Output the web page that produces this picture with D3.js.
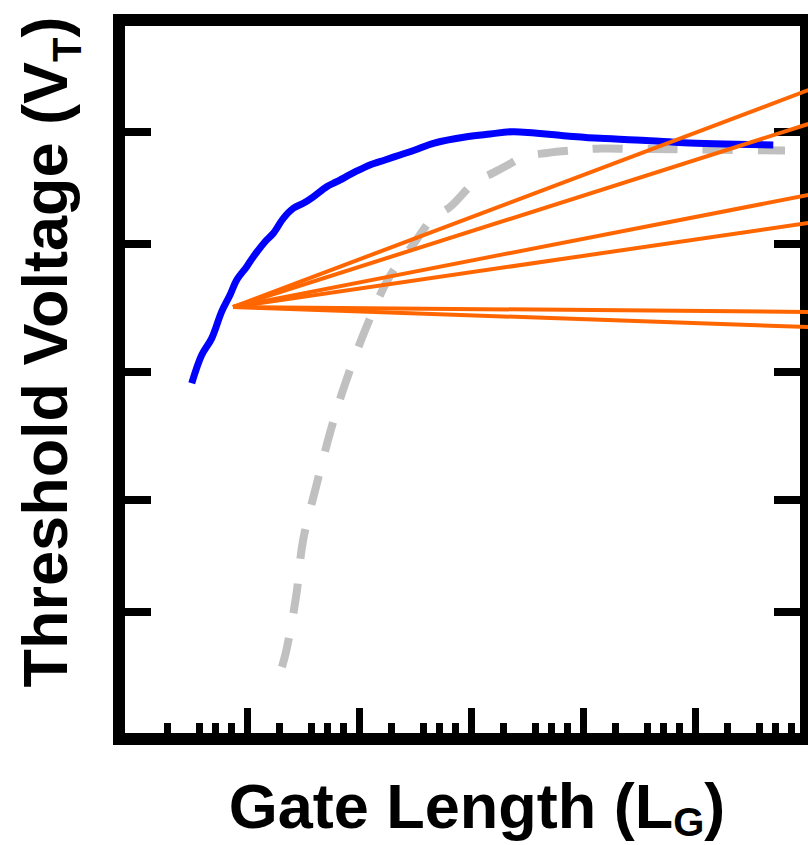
<!DOCTYPE html>
<html>
<head>
<meta charset="utf-8">
<script src="https://cdn.jsdelivr.net/npm/d3@7"></script>
<style>
  html, body { margin: 0; padding: 0; background: #fff; }
  svg { display: block; }
  .axisLabel { font-family: "Liberation Sans", Arial, sans-serif; font-weight: bold; fill: #000; }
</style>
</head>
<body>
<div id="chart"></div>
<script>
'use strict';

// schematic: arbitrary units, log gate length vs threshold voltage
const xMajorTicks = [1e1, 1e2, 1e3, 1e4, 1e5];
const xMinorTicks = [1.93, 3.73, 5.18, 7.2, 19.3, 37.3, 51.8, 72, 193, 373, 518, 720,
    1930, 3730, 5180, 7200, 19300, 37300, 51800, 72000, 193000, 373000, 518000, 720000];
const yTicks = [8, 15, 23, 31, 38];

// blue curve
const blueX = [3.21, 3.94, 4.84, 5.94, 7.05, 8.09, 9.94, 11.4, 14.5, 17.2, 21.1, 25.9, 31.8, 39.1,
    51.5, 63.2, 92.1, 125, 170.7, 232, 316, 461, 916, 1479, 2388, 7150, 14190, 39650, 78700, 500000];
const blueY = [22.23, 24.0, 25.04, 26.71, 27.75, 28.69, 29.52, 30.14, 31.08, 31.61, 32.54, 33.17, 33.48, 33.89,
    34.52, 34.83, 35.44, 35.88, 36.19, 36.5, 36.81, 37.23, 37.64, 37.81, 37.96, 37.69, 37.54, 37.39, 37.27, 37.13];

// gray dashed curve
const grayX = [20.5, 22.3, 27.4, 31.6, 41.3, 55.1, 73.5, 115.5, 189, 303, 458, 649, 1086, 1572, 2140, 2912,
    4770, 8840, 14780, 27950, 110900, 636300];
const grayY = [4.5, 5.44, 8.88, 12.38, 15.75, 19.13, 22.0, 25.69, 28.94, 30.88, 32.56, 33.25, 34.81, 35.38, 35.88, 36.38,
    36.63, 36.81, 36.91, 36.88, 36.84, 36.78];

// orange fan
const fanOrigin = [7.5, 27.0];
const fanEndX = 1.03e6;
const fanEndY = [40.56, 38.44, 34.0, 32.25, 26.69, 25.75];

const W = 808, H = 845;
const frame = { left: 119, top: 20, right: 806, bottom: 739 };

const svg = d3.select("#chart").append("svg")
    .attr("width", W)
    .attr("height", H)
    .attr("viewBox", "0 0 " + W + " " + H);

const x = d3.scaleLog().domain([1, 1e6]).range([135, 807]);
const y = d3.scaleLinear().domain([0, 45]).range([739, 19]);

const line = d3.line()
    .x(function (d) { return x(d[0]); })
    .y(function (d) { return y(d[1]); })
    .curve(d3.curveCatmullRom.alpha(0.5));

// frame
svg.append("rect")
    .attr("x", frame.left)
    .attr("y", frame.top)
    .attr("width", frame.right - frame.left)
    .attr("height", frame.bottom - frame.top)
    .attr("fill", "none")
    .attr("stroke", "#000")
    .attr("stroke-width", 12)
    .attr("shape-rendering", "crispEdges");

// x ticks pointing up from the bottom frame
const xAxisMajor = svg.append("g")
    .attr("transform", "translate(0," + (frame.bottom - 6) + ")")
    .call(d3.axisTop(x).tickValues(xMajorTicks).tickSize(25).tickFormat(""));
const xAxisMinor = svg.append("g")
    .attr("transform", "translate(0," + (frame.bottom - 6) + ")")
    .call(d3.axisTop(x).tickValues(xMinorTicks).tickSize(10).tickFormat(""));

// y ticks on both sides, pointing inward
const yAxisLeft = svg.append("g")
    .attr("transform", "translate(" + (frame.left + 6) + ",0)")
    .call(d3.axisRight(y).tickValues(yTicks).tickSize(26).tickFormat(""));
const yAxisRight = svg.append("g")
    .attr("transform", "translate(" + (frame.right - 6) + ",0)")
    .call(d3.axisLeft(y).tickValues(yTicks).tickSize(26).tickFormat(""));

[xAxisMajor, xAxisMinor].forEach(function (g) {
    g.select(".domain").remove();
    g.selectAll(".tick line").attr("stroke", "#000").attr("stroke-width", 7).attr("shape-rendering", "crispEdges");
});
[yAxisLeft, yAxisRight].forEach(function (g) {
    g.select(".domain").remove();
    g.selectAll(".tick line").attr("stroke", "#000").attr("stroke-width", 8).attr("shape-rendering", "crispEdges");
});

// gray dashed
svg.append("path")
    .datum(d3.zip(grayX, grayY))
    .attr("fill", "none")
    .attr("stroke", "#c0c0c0")
    .attr("stroke-width", 8)
    .attr("stroke-dasharray", "30,25")
    .attr("d", line);

// blue
svg.append("path")
    .datum(d3.zip(blueX, blueY))
    .attr("fill", "none")
    .attr("stroke", "#0000ff")
    .attr("stroke-width", 7)
    .attr("stroke-linejoin", "round")
    .attr("d", line);

// orange fan lines
svg.append("g")
    .selectAll("line")
    .data(fanEndY)
    .enter().append("line")
    .attr("x1", x(fanOrigin[0]))
    .attr("y1", y(fanOrigin[1]))
    .attr("x2", x(fanEndX))
    .attr("y2", function (d) { return y(d); })
    .attr("stroke", "#ff6600")
    .attr("stroke-width", 4);

// axis titles
const xTitle = svg.append("text")
    .attr("class", "axisLabel")
    .attr("x", 477)
    .attr("y", 828)
    .attr("font-size", "63px")
    .style("text-anchor", "middle");
xTitle.append("tspan").text("Gate Length (L");
xTitle.append("tspan").attr("font-size", "40px").attr("dy", 8).text("G");
xTitle.append("tspan").attr("dy", -8).text(")");

const yTitle = svg.append("text")
    .attr("class", "axisLabel")
    .attr("transform", "translate(67,352) rotate(-90)")
    .attr("font-size", "63px")
    .style("text-anchor", "middle");
yTitle.append("tspan").text("Threshold Voltage (V");
yTitle.append("tspan").attr("font-size", "40px").attr("dy", 14).text("T");
yTitle.append("tspan").attr("dy", -14).text(")");
</script>
</body>
</html>
